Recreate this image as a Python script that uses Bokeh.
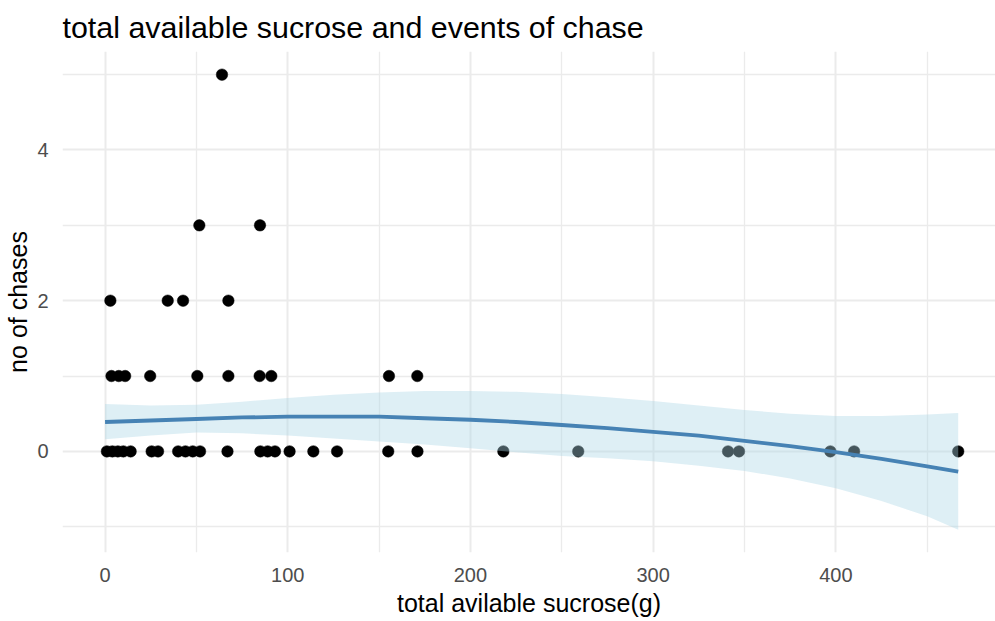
from bokeh.plotting import figure
from bokeh.models import Range1d, FixedTicker, ColumnDataSource
from bokeh.embed import file_html
from bokeh.resources import INLINE

# observed points (total available sucrose in g, number of chases)
sucrose = [1, 4, 7, 10, 14, 25.5, 29, 40, 44, 48, 52, 67, 85, 89, 93, 101, 114, 127,
           155, 171, 218, 259, 341, 347, 397, 410, 467,
           3.5, 7.5, 11, 24.7, 50.5, 67.5, 84.6, 91, 155.4, 170.9,
           2.9, 34.3, 42.7, 67.5,
           51.6, 84.8,
           64]
chases = [0] * 27 + [1] * 10 + [2] * 4 + [3] * 2 + [5]

# smoother
fit_x = [0, 25, 50, 75, 100, 125, 150, 175, 200, 225, 250, 275, 300, 325, 350, 375, 400, 425, 450, 467]
fit_y = [0.39, 0.41, 0.43, 0.45, 0.46, 0.46, 0.46, 0.44, 0.42, 0.39, 0.35, 0.31, 0.26, 0.21, 0.14, 0.07, -0.01, -0.10, -0.20, -0.27]
fit_hi = [0.63, 0.61, 0.62, 0.66, 0.71, 0.75, 0.78, 0.80, 0.80, 0.79, 0.76, 0.72, 0.67, 0.61, 0.55, 0.50, 0.47, 0.47, 0.49, 0.51]
fit_lo = [0.16, 0.21, 0.25, 0.24, 0.21, 0.17, 0.13, 0.09, 0.04, -0.01, -0.06, -0.09, -0.13, -0.19, -0.26, -0.36, -0.49, -0.66, -0.86, -1.04]

x_ticks = [0, 100, 200, 300, 400]
x_minor = [50, 150, 250, 350, 450]
y_ticks = [0, 2, 4]
y_minor = [-1, 1, 3, 5]

FONT = "Liberation Sans"

p = figure(width=995, height=621, output_backend="svg", toolbar_location=None,
           x_range=Range1d(-23.3, 487.4), y_range=Range1d(-1.342, 5.307),
           min_border_left=62, min_border_right=0, min_border_top=50, min_border_bottom=69,
           title="total available sucrose and events of chase")
p.outline_line_color = None
p.background_fill_color = "white"
p.border_fill_color = "white"

p.title.text_font = FONT
p.title.text_font_size = "30.4px"
p.title.text_font_style = "normal"
p.title.text_color = "black"
p.title.offset = 0
p.title.standoff = 15

p.xaxis.ticker = FixedTicker(ticks=x_ticks, minor_ticks=x_minor)
p.yaxis.ticker = FixedTicker(ticks=y_ticks, minor_ticks=y_minor)
for ax in (p.xaxis, p.yaxis):
    ax.axis_line_color = None
    ax.major_tick_line_color = None
    ax.minor_tick_line_color = None
    ax.major_label_text_font = FONT
    ax.major_label_text_font_size = "20px"
    ax.major_label_text_color = "#4D4D4D"
    ax.axis_label_text_font = FONT
    ax.axis_label_text_font_size = "25px"
    ax.axis_label_text_font_style = "normal"
    ax.axis_label_text_color = "black"
p.xaxis.axis_label = "total avilable sucrose(g)"
p.yaxis.axis_label = "no of chases"
p.xaxis.major_label_standoff = 9
p.yaxis.major_label_standoff = 8
p.xaxis.axis_label_standoff = 4
p.yaxis.axis_label_standoff = 2

for g in (p.xgrid, p.ygrid):
    g.grid_line_color = "#EBEBEB"
    g.grid_line_width = 2
    g.minor_grid_line_color = "#EBEBEB"
    g.minor_grid_line_width = 1.3

pts = ColumnDataSource(dict(x=sucrose, y=chases))
p.scatter("x", "y", source=pts, size=11.5, fill_color="black", line_color="black", line_width=0.5)

fit = ColumnDataSource(dict(x=fit_x, y=fit_y, lo=fit_lo, hi=fit_hi))
p.varea(x="x", y1="lo", y2="hi", source=fit, fill_color="#ADD8E6", fill_alpha=0.4)
p.line("x", "y", source=fit, line_color="#4682B4", line_width=3.8)

open("out.html", "w").write(file_html(p, INLINE))
